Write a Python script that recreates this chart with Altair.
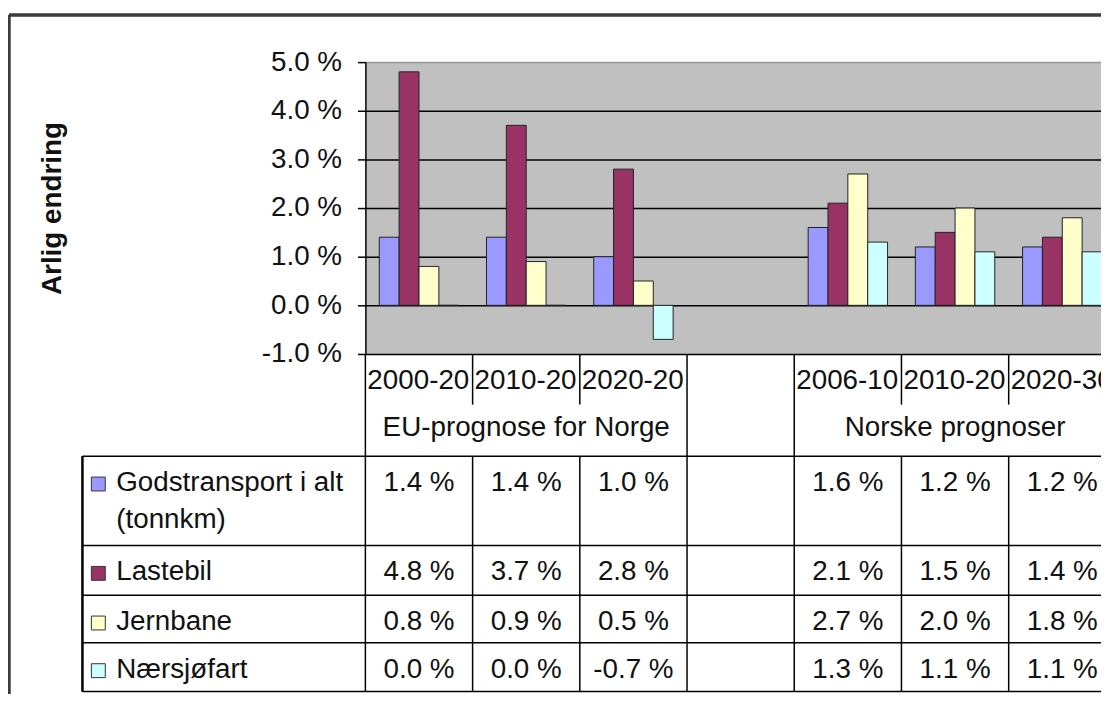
import altair as alt
import pandas as pd

# ---------------- data ----------------
CATEGORIES = ["c0", "c1", "c2", "c3", "c4", "c5", "c6"]
PERIOD_LABELS = ["2000-20", "2010-20", "2020-20", "", "2006-10", "2010-20", "2020-30"]
GROUP_LABELS = ["EU-prognose for Norge", "", "Norske prognoser"]
GROUP_MEMBERS = [["c0", "c1", "c2"], ["c3"], ["c4", "c5", "c6"]]
SERIES = ["Godstransport i alt (tonnkm)", "Lastebil", "Jernbane", "Nærsjøfart"]
SERIES_TEXT = ["Godstransport i alt\n(tonnkm)", "Lastebil", "Jernbane", "Nærsjøfart"]
COLORS = ["#9999FF", "#993366", "#FFFFCC", "#CCFFFF"]
GODS = [1.4, 1.4, 1.0, None, 1.6, 1.2, 1.2]
LASTEBIL = [4.8, 3.7, 2.8, None, 2.1, 1.5, 1.4]
JERNBANE = [0.8, 0.9, 0.5, None, 2.7, 2.0, 1.8]
NAERSJO = [0.0, 0.0, -0.7, None, 1.3, 1.1, 1.1]
Y_TICKS = [-1, 0, 1, 2, 3, 4, 5]
Y_TITLE = "Arlig endring"

# ---------------- layout ----------------
FONT = "Liberation Sans"
FS = 28
TXT = "#111111"
W, H = 741, 294            # plot area (clipped at the page edge)
BAND_RANGE = 756           # 7 bands of 108 px
HEADER_H, GROUP_H = 51, 52
ROW_H = [90, 50, 48, 49]
BASE = 35                  # text baseline offset inside a row
TABLE_LEFT = -285
LINE = 1.5

VALUES = [GODS, LASTEBIL, JERNBANE, NAERSJO]

row_tops = [H + HEADER_H + GROUP_H]
for h in ROW_H:
    row_tops.append(row_tops[-1] + h)
table_bottom = row_tops[-1]

bar_rows, val_rows, leg_rows = [], [], []
for i, (s, vals) in enumerate(zip(SERIES, VALUES)):
    for c, v in zip(CATEGORIES, vals):
        if v is None:
            continue
        bar_rows.append({"cat": c, "series": s, "value": v})
        val_rows.append({"cat": c, "series": s, "label": f"{v:.1f} %",
                         "ty": row_tops[i] + BASE})
    leg_rows.append({"series": s, "text": SERIES_TEXT[i], "ty": row_tops[i] + BASE,
                     "sq1": row_tops[i] + BASE - 14, "sq2": row_tops[i] + BASE})
bars_df = pd.DataFrame(bar_rows)
vals_df = pd.DataFrame(val_rows)
leg_df = pd.DataFrame(leg_rows)

header_df = pd.DataFrame({"cat": CATEGORIES, "label": PERIOD_LABELS,
                          "ty": [H + BASE] * len(CATEGORIES)})
header_df = header_df[header_df["label"] != ""]

grp_rows = []
for lab, mem in zip(GROUP_LABELS, GROUP_MEMBERS):
    if lab:
        grp_rows.append({"cat": mem[len(mem) // 2], "label": lab, "ty": H + HEADER_H + 32})
grp_df = pd.DataFrame(grp_rows)

vl_rows = []
firsts = [m[0] for m in GROUP_MEMBERS]
for c in CATEGORIES:
    if c in firsts:
        vl_rows.append({"cat": c, "y1": H, "y2": table_bottom})
    else:
        vl_rows.append({"cat": c, "y1": H, "y2": H + HEADER_H})
        vl_rows.append({"cat": c, "y1": row_tops[0], "y2": table_bottom})
vl_df = pd.DataFrame(vl_rows)
hl_df = pd.DataFrame({"ty": row_tops})

x_scale = alt.Scale(domain=CATEGORIES, range=[0, BAND_RANGE], paddingInner=0, paddingOuter=0)
color_scale = alt.Scale(domain=SERIES, range=COLORS)
y_scale = alt.Scale(domain=[-1, 5], nice=False, zero=False)

y_axis = alt.Axis(
    values=Y_TICKS,
    labelExpr="(datum.value < 0 ? '-' : '') + format(abs(datum.value), '.1f') + ' %'",
    grid=True, gridColor=alt.condition("datum.value == 5", alt.value("#9a9a9a"), alt.value("#000000")),
    gridWidth=LINE, domainColor="#000000", domainWidth=LINE, tickColor="#000000",
    tickWidth=LINE, tickSize=8, labelPadding=16, labelFont=FONT, labelFontSize=FS,
    labelColor=TXT, labelOverlap=False, title=Y_TITLE, titleFont=FONT, titleFontSize=FS,
    titleFontWeight="bold", titleColor=TXT, titleX=-315, titleY=H / 2, titleAngle=270,
    titleAlign="center", titleBaseline="middle",
)

bars = alt.Chart(bars_df).mark_bar(stroke="#222222", strokeWidth=1).encode(
    x=alt.X("cat:N", scale=x_scale, axis=None),
    xOffset=alt.XOffset("series:N", sort=SERIES,
                        scale=alt.Scale(domain=SERIES, paddingInner=0, paddingOuter=0.7)),
    y=alt.Y("value:Q", scale=y_scale, axis=y_axis, stack=None),
    color=alt.Color("series:N", scale=color_scale, legend=None),
)

vlines = alt.Chart(vl_df).mark_rule(color="#000000", strokeWidth=LINE).encode(
    x=alt.X("cat:N", scale=x_scale, bandPosition=0, axis=None),
    y=alt.Y("y1:Q", scale=None, axis=None),
    y2="y2:Q",
)

hlines = alt.Chart(hl_df).mark_rule(color="#000000", strokeWidth=LINE).encode(
    x=alt.value(TABLE_LEFT), x2=alt.value(W),
    y=alt.Y("ty:Q", scale=None, axis=None),
)

left_line = alt.Chart(hl_df).mark_rule(color="#000000", strokeWidth=LINE).encode(
    x=alt.value(TABLE_LEFT), y=alt.value(row_tops[0]), y2=alt.value(table_bottom),
)

border_left = alt.Chart(hl_df).mark_rule(color="#3c3c3c", strokeWidth=2.5).encode(
    x=alt.value(-359), y=alt.value(-47.5), y2=alt.value(H + 500),
)
border_top = alt.Chart(hl_df).mark_rule(color="#3c3c3c", strokeWidth=2.5).encode(
    x=alt.value(-359), x2=alt.value(W + 20), y=alt.value(-47.5),
)

text_kw = dict(font=FONT, fontSize=FS, color=TXT, baseline="alphabetic")

header = alt.Chart(header_df).mark_text(align="left", dx=2, **text_kw).encode(
    x=alt.X("cat:N", scale=x_scale, bandPosition=0, axis=None),
    y=alt.Y("ty:Q", scale=None, axis=None),
    text="label:N",
)

groups = alt.Chart(grp_df).mark_text(align="center", **text_kw).encode(
    x=alt.X("cat:N", scale=x_scale, axis=None),
    y=alt.Y("ty:Q", scale=None, axis=None),
    text="label:N",
)

values = alt.Chart(vals_df).mark_text(align="center", **text_kw).encode(
    x=alt.X("cat:N", scale=x_scale, axis=None),
    y=alt.Y("ty:Q", scale=None, axis=None),
    text="label:N",
)

leg_text = alt.Chart(leg_df).mark_text(align="left", lineBreak="\n", lineHeight=37, **text_kw).encode(
    x=alt.value(-251),
    y=alt.Y("ty:Q", scale=None, axis=None),
    text="text:N",
)

leg_sq = alt.Chart(leg_df).mark_rect(stroke="#333333", strokeWidth=1).encode(
    x=alt.value(-276), x2=alt.value(-262),
    y=alt.Y("sq1:Q", scale=None, axis=None), y2="sq2:Q",
    color=alt.Color("series:N", scale=color_scale, legend=None),
)

chart = alt.layer(
    bars, vlines, hlines, left_line, border_left, border_top,
    header, groups, values, leg_text, leg_sq,
).properties(
    width=W, height=H,
    autosize=alt.AutoSizeParams(type="none"),
    padding={"left": 360, "top": 52, "right": 0, "bottom": 340},
    background="white",
).configure_view(fill="#C0C0C0", stroke="transparent")

chart.save("out.html", embed_options={"renderer": "svg", "actions": False})
